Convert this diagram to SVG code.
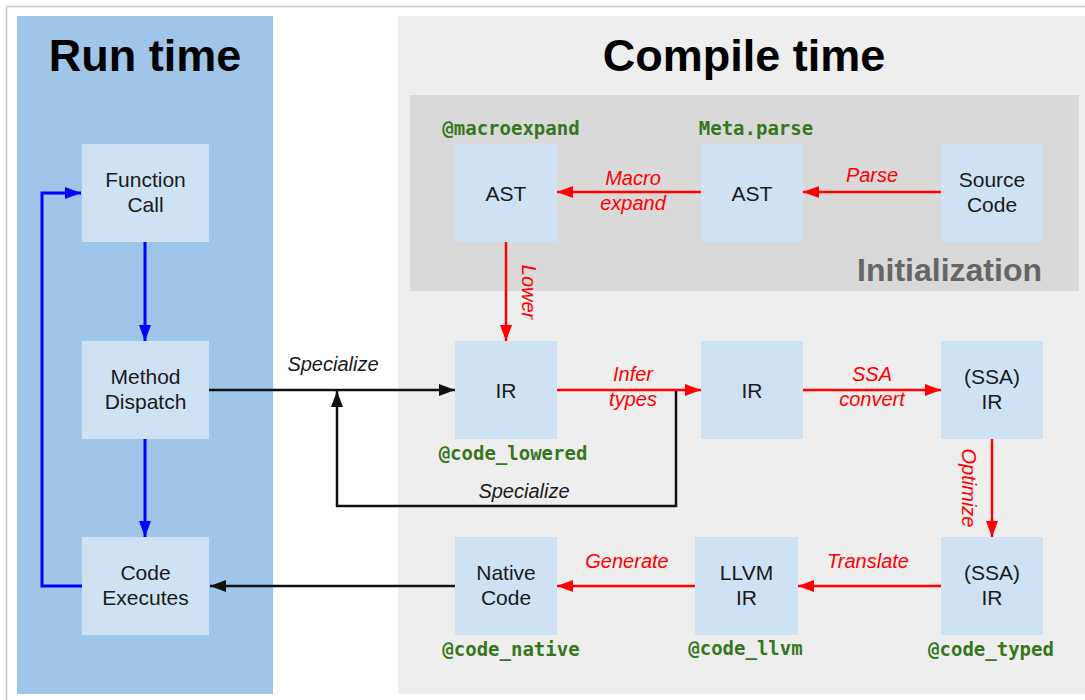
<svg xmlns="http://www.w3.org/2000/svg" width="1085" height="700" viewBox="0 0 1085 700">
<style>
.node{fill:#cfe2f3}
.nt{font-family:"Liberation Sans",Arial,sans-serif;font-size:21px;fill:#1a1a1a;text-anchor:middle}
.code{font-family:"DejaVu Sans Mono","Liberation Mono",monospace;font-weight:bold;font-size:19px;fill:#38761d;text-anchor:middle}
.rl{font-family:"Liberation Sans",Arial,sans-serif;font-style:italic;font-size:20px;fill:#ff0000;text-anchor:middle}
.bl{font-family:"Liberation Sans",Arial,sans-serif;font-style:italic;font-size:20px;fill:#1a1a1a;text-anchor:middle}
.title{font-family:"Liberation Sans",Arial,sans-serif;font-weight:bold;font-size:45px;fill:#000;text-anchor:middle}
.red{stroke:#ff0000;stroke-width:2.5;fill:none}
.blk{stroke:#111;stroke-width:2.5;fill:none}
.blu{stroke:#0000ff;stroke-width:3;fill:none}
</style>
<defs>
<marker id="ar" markerUnits="userSpaceOnUse" markerWidth="16" markerHeight="12" refX="16" refY="6" orient="auto"><path d="M0,0 L16,6 L0,12 z" fill="#ff0000"/></marker>
<marker id="ak" markerUnits="userSpaceOnUse" markerWidth="16" markerHeight="12" refX="16" refY="6" orient="auto"><path d="M0,0 L16,6 L0,12 z" fill="#111"/></marker>
<marker id="ab" markerUnits="userSpaceOnUse" markerWidth="16" markerHeight="12" refX="16" refY="6" orient="auto"><path d="M0,0 L16,6 L0,12 z" fill="#0000ff"/></marker>
</defs>
<rect x="0" y="0" width="1085" height="700" fill="#ffffff"/>
<path d="M6.5,700 V6.5 H1085" stroke="#c8c8c8" stroke-width="1.5" fill="none"/>
<g id="panels">
<rect x="17" y="16" width="256" height="678" fill="#9fc5e8"/>
<rect x="398" y="16" width="687" height="678" fill="#eeeeee"/>
<rect x="410" y="95" width="669" height="196" fill="#d9d9d9"/>
<text class="title" x="145" y="71">Run time</text>
<text class="title" x="744" y="71">Compile time</text>
<text x="1042" y="281" font-family="Liberation Sans, Arial, sans-serif" font-weight="bold" font-size="32" fill="#666666" text-anchor="end">Initialization</text>
</g>
<g id="connectors">
<line class="blu" x1="145" y1="242" x2="145" y2="341" marker-end="url(#ab)"/>
<line class="blu" x1="145" y1="439" x2="145" y2="537" marker-end="url(#ab)"/>
<path class="blu" d="M82,586 H42 V193 H81" marker-end="url(#ab)"/>
<line class="blk" x1="209" y1="390" x2="455" y2="390" marker-end="url(#ak)"/>
<path class="blk" d="M676,390 V506 H337 V391" marker-end="url(#ak)"/>
<line class="blk" x1="455" y1="586" x2="210" y2="586" marker-end="url(#ak)"/>
<line class="red" x1="941" y1="192" x2="803" y2="192" marker-end="url(#ar)"/>
<line class="red" x1="701" y1="192" x2="557" y2="192" marker-end="url(#ar)"/>
<line class="red" x1="506" y1="242" x2="506" y2="341" marker-end="url(#ar)"/>
<line class="red" x1="557" y1="390" x2="701" y2="390" marker-end="url(#ar)"/>
<line class="red" x1="803" y1="390" x2="941" y2="390" marker-end="url(#ar)"/>
<line class="red" x1="992" y1="439" x2="992" y2="537" marker-end="url(#ar)"/>
<line class="red" x1="941" y1="586" x2="798" y2="586" marker-end="url(#ar)"/>
<line class="red" x1="695" y1="586" x2="557" y2="586" marker-end="url(#ar)"/>
<text class="rl" x="633" y="185">Macro</text>
<text class="rl" x="633" y="210">expand</text>
<text class="rl" x="872" y="182">Parse</text>
<text class="rl" transform="translate(522,292) rotate(90)">Lower</text>
<text class="rl" x="633" y="381">Infer</text>
<text class="rl" x="633" y="406">types</text>
<text class="rl" x="872" y="381">SSA</text>
<text class="rl" x="872" y="406">convert</text>
<text class="rl" transform="translate(962,488) rotate(90)">Optimize</text>
<text class="rl" x="627" y="568">Generate</text>
<text class="rl" x="868" y="568">Translate</text>
<text class="bl" x="333" y="371">Specialize</text>
<text class="bl" x="524" y="498">Specialize</text>
</g>
<g id="function-call"><rect class="node" x="82" y="144" width="127" height="98"/><text class="nt" x="145.5" y="187">Function</text><text class="nt" x="145.5" y="212">Call</text></g>
<g id="method-dispatch"><rect class="node" x="82" y="341" width="127" height="98"/><text class="nt" x="145.5" y="384">Method</text><text class="nt" x="145.5" y="409">Dispatch</text></g>
<g id="code-executes"><rect class="node" x="82" y="537" width="127" height="98"/><text class="nt" x="145.5" y="580">Code</text><text class="nt" x="145.5" y="605">Executes</text></g>
<g id="ast-expanded"><rect class="node" x="455" y="144" width="102" height="98"/><text class="nt" x="506" y="201">AST</text><text class="code" x="511" y="135">@macroexpand</text></g>
<g id="ast-parsed"><rect class="node" x="701" y="144" width="102" height="98"/><text class="nt" x="752" y="201">AST</text><text class="code" x="756" y="135">Meta.parse</text></g>
<g id="source-code"><rect class="node" x="941" y="144" width="102" height="98"/><text class="nt" x="992" y="187">Source</text><text class="nt" x="992" y="212">Code</text></g>
<g id="ir-lowered"><rect class="node" x="455" y="341" width="102" height="98"/><text class="nt" x="506" y="398">IR</text><text class="code" x="513" y="460">@code_lowered</text></g>
<g id="ir-typed"><rect class="node" x="701" y="341" width="102" height="98"/><text class="nt" x="752" y="398">IR</text></g>
<g id="ssa-ir"><rect class="node" x="941" y="341" width="102" height="98"/><text class="nt" x="992" y="384">(SSA)</text><text class="nt" x="992" y="409">IR</text></g>
<g id="ssa-ir-opt"><rect class="node" x="941" y="537" width="102" height="98"/><text class="nt" x="992" y="580">(SSA)</text><text class="nt" x="992" y="605">IR</text><text class="code" x="991" y="656">@code_typed</text></g>
<g id="llvm-ir"><rect class="node" x="695" y="537" width="103" height="98"/><text class="nt" x="746.5" y="580">LLVM</text><text class="nt" x="746.5" y="605">IR</text><text class="code" x="745.5" y="655">@code_llvm</text></g>
<g id="native-code"><rect class="node" x="455" y="537" width="102" height="98"/><text class="nt" x="506" y="580">Native</text><text class="nt" x="506" y="605">Code</text><text class="code" x="511" y="656">@code_native</text></g>
</svg>
